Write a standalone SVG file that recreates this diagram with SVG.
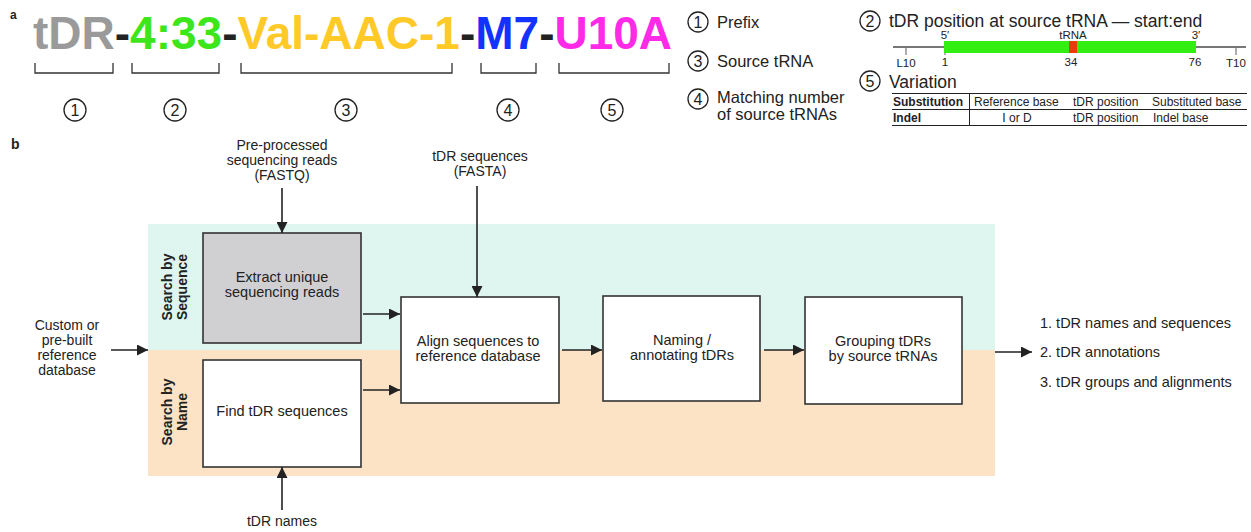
<svg xmlns="http://www.w3.org/2000/svg" width="1251" height="532" viewBox="0 0 1251 532">
<style>
text{font-family:"Liberation Sans",Arial,sans-serif;fill:#222}
.b{font-weight:bold}
.box{stroke:#333;stroke-width:1.6;fill:#fff}
.bt{font-size:14.5px;text-anchor:middle}
.lab{font-size:14px;text-anchor:middle}
.con{stroke:#222;stroke-width:1.6;fill:none;marker-end:url(#ah)}
.circ{fill:#fff;stroke:#222;stroke-width:1.3}
.cn{font-size:16px;text-anchor:middle}
.leg{font-size:16.5px}
.br{stroke:#333;stroke-width:1.3;fill:none}
.tb{font-size:12px}
</style>
<defs>
<marker id="ah" viewBox="0 0 10 10" refX="10" refY="5" markerWidth="11" markerHeight="11" markerUnits="userSpaceOnUse" orient="auto">
<path d="M0,0 L10,5 L0,10 z" fill="#222"/>
</marker>
</defs>

<!-- Panel a -->
<text x="10" y="19" class="b" font-size="12">a</text>
<text x="33" y="49" class="b" font-size="46"><tspan fill="#9a9a9a">tDR</tspan><tspan fill="#222">-</tspan><tspan fill="#3de61a">4:33</tspan><tspan fill="#222">-</tspan><tspan fill="#ffc928">Val-AAC-1</tspan><tspan fill="#222">-</tspan><tspan fill="#1432ff">M7</tspan><tspan fill="#222">-</tspan><tspan fill="#ff2ae8">U10A</tspan></text>

<g id="brackets">
<path class="br" d="M35,63 V73 H113 V63"/>
<path class="br" d="M132,63 V73 H219 V63"/>
<path class="br" d="M241,63 V73 H452 V63"/>
<path class="br" d="M481,63 V73 H536 V63"/>
<path class="br" d="M559,63 V73 H669 V63"/>
</g>
<g id="bracket-numbers">
<circle class="circ" cx="75" cy="110" r="11"/><text class="cn" x="75" y="116">1</text>
<circle class="circ" cx="175" cy="110" r="11"/><text class="cn" x="175" y="116">2</text>
<circle class="circ" cx="346" cy="110" r="11"/><text class="cn" x="346" y="116">3</text>
<circle class="circ" cx="508" cy="110" r="11"/><text class="cn" x="508" y="116">4</text>
<circle class="circ" cx="612" cy="110" r="11"/><text class="cn" x="612" y="116">5</text>
</g>

<g id="legend">
<circle class="circ" cx="698" cy="22" r="10"/><text class="cn" x="698" y="27.5">1</text>
<text class="leg" x="717" y="28">Prefix</text>
<circle class="circ" cx="698" cy="61" r="10"/><text class="cn" x="698" y="66.5">3</text>
<text class="leg" x="717" y="67">Source tRNA</text>
<circle class="circ" cx="698" cy="99" r="10"/><text class="cn" x="698" y="104.5">4</text>
<text class="leg" x="717" y="103">Matching number</text>
<text class="leg" x="717" y="120">of source tRNAs</text>

<circle class="circ" cx="870" cy="21" r="10"/><text class="cn" x="870" y="26.5">2</text>
<text x="889" y="27" font-size="17.5">tDR position at source tRNA — start:end</text>
<line x1="893" y1="47" x2="1246" y2="47" stroke="#777" stroke-width="1.8"/>
<line x1="906" y1="47" x2="906" y2="55" stroke="#777" stroke-width="1.2"/>
<line x1="1236" y1="47" x2="1236" y2="55" stroke="#777" stroke-width="1.2"/>
<line x1="945" y1="47" x2="945" y2="55" stroke="#777" stroke-width="1.2"/>
<rect x="944" y="41" width="252" height="12" fill="#33ee11"/>
<rect x="1069" y="41" width="8" height="12" fill="#e83c0a"/>
<text x="945" y="39" font-size="11.5" text-anchor="middle">5′</text>
<text x="1073" y="39" font-size="11.5" text-anchor="middle">tRNA</text>
<text x="1196" y="39" font-size="11.5" text-anchor="middle">3′</text>
<text x="906" y="67" font-size="11.5" text-anchor="middle">L10</text>
<text x="945" y="66" font-size="11.5" text-anchor="middle">1</text>
<text x="1071" y="66" font-size="11.5" text-anchor="middle">34</text>
<text x="1195" y="66" font-size="11.5" text-anchor="middle">76</text>
<text x="1236" y="67" font-size="11.5" text-anchor="middle">T10</text>

<circle class="circ" cx="870" cy="81" r="10"/><text class="cn" x="870" y="86.5">5</text>
<text x="889" y="88" font-size="17.5">Variation</text>
<line x1="892" y1="93.5" x2="1247" y2="93.5" stroke="#222" stroke-width="1"/>
<line x1="892" y1="109.5" x2="1247" y2="109.5" stroke="#222" stroke-width="1"/>
<line x1="892" y1="125.5" x2="1247" y2="125.5" stroke="#222" stroke-width="1"/>
<line x1="969.5" y1="93.5" x2="969.5" y2="125.5" stroke="#222" stroke-width="1"/>
<text class="tb b" x="893" y="105.5">Substitution</text>
<text class="tb" x="974" y="105.5">Reference base</text>
<text class="tb" x="1073" y="105.5">tDR position</text>
<text class="tb" x="1152" y="105.5">Substituted base</text>
<text class="tb b" x="893" y="121.5">Indel</text>
<text class="tb" x="1017" y="121.5" text-anchor="middle">I or D</text>
<text class="tb" x="1073" y="121.5">tDR position</text>
<text class="tb" x="1153" y="121.5">Indel base</text>
</g>

<!-- Panel b -->
<text x="11" y="149" class="b" font-size="14">b</text>
<rect x="148" y="224" width="847" height="126" fill="#dff5ef"/>
<rect x="148" y="350" width="847" height="126" fill="#fde3c6"/>
<text class="b" font-size="14" text-anchor="middle" transform="translate(172,287) rotate(-90)">Search by</text>
<text class="b" font-size="14" text-anchor="middle" transform="translate(187,287) rotate(-90)">Sequence</text>
<text class="b" font-size="14" text-anchor="middle" transform="translate(172,412) rotate(-90)">Search by</text>
<text class="b" font-size="14" text-anchor="middle" transform="translate(187,412) rotate(-90)">Name</text>

<g id="in-fastq">
<text class="lab" x="282" y="150">Pre-processed</text>
<text class="lab" x="282" y="165">sequencing reads</text>
<text class="lab" x="282" y="180">(FASTQ)</text>
</g>
<g id="in-fasta">
<text class="lab" x="480" y="161">tDR sequences</text>
<text class="lab" x="480" y="176">(FASTA)</text>
</g>
<g id="in-ref">
<text class="lab" x="67" y="330">Custom or</text>
<text class="lab" x="67" y="345">pre-built</text>
<text class="lab" x="67" y="360">reference</text>
<text class="lab" x="67" y="375">database</text>
</g>
<g id="in-names">
<text class="lab" x="282" y="526">tDR names</text>
</g>

<g id="extract">
<rect class="box" x="203" y="233" width="158" height="110" style="fill:#d0d0d2"/>
<text class="bt" x="282" y="282">Extract unique</text>
<text class="bt" x="282" y="297">sequencing reads</text>
</g>
<g id="find">
<rect class="box" x="203" y="360" width="158" height="107"/>
<text class="bt" x="282" y="416">Find tDR sequences</text>
</g>
<g id="align">
<rect class="box" x="401" y="297" width="158" height="106"/>
<text class="bt" x="478" y="346">Align sequences to</text>
<text class="bt" x="478" y="361">reference database</text>
</g>
<g id="naming">
<rect class="box" x="603" y="296" width="157" height="105"/>
<text class="bt" x="682" y="345">Naming /</text>
<text class="bt" x="682" y="360">annotating tDRs</text>
</g>
<g id="grouping">
<rect class="box" x="805" y="297" width="157" height="107"/>
<text class="bt" x="883" y="346">Grouping tDRs</text>
<text class="bt" x="883" y="361">by source tRNAs</text>
</g>
<g id="outputs">
<text x="1040" y="328" font-size="14.5">1. tDR names and sequences</text>
<text x="1040" y="357" font-size="14.5">2. tDR annotations</text>
<text x="1040" y="387" font-size="14.5">3. tDR groups and alignments</text>
</g>

<g id="connectors">
<line class="con" x1="282" y1="188" x2="282" y2="233"/>
<line class="con" x1="477" y1="186" x2="477" y2="297"/>
<line class="con" x1="111" y1="350" x2="148" y2="350"/>
<line class="con" x1="282" y1="510" x2="282" y2="467"/>
<line class="con" x1="363" y1="314" x2="400" y2="314"/>
<line class="con" x1="363" y1="390" x2="400" y2="390"/>
<line class="con" x1="562" y1="350" x2="602" y2="350"/>
<line class="con" x1="764" y1="350" x2="804" y2="350"/>
<line class="con" x1="995" y1="352" x2="1032" y2="352"/>
</g>
</svg>
